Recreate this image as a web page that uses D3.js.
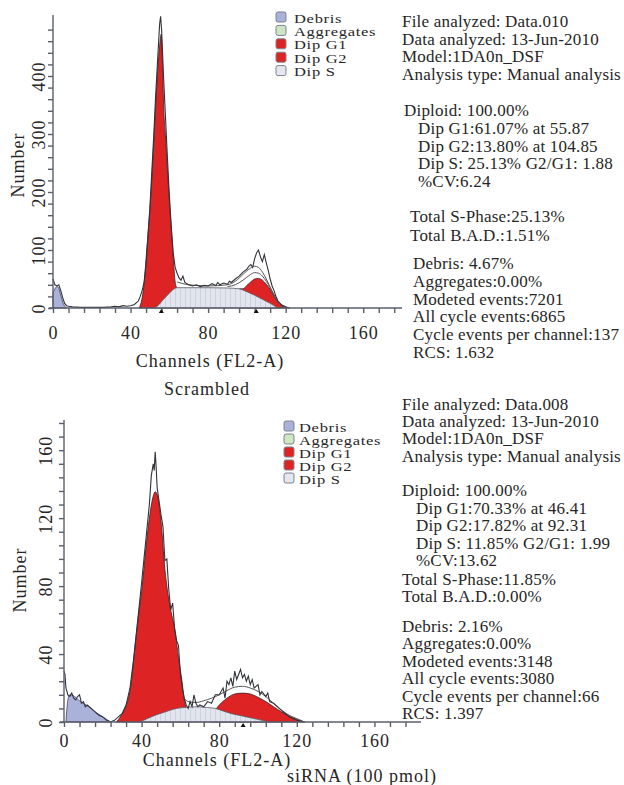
<!DOCTYPE html>
<html>
<head>
<meta charset="utf-8">
<script src="https://cdn.jsdelivr.net/npm/d3@7"></script>
<style>
  body { margin: 0; background: #fff; }
  svg { display: block; font-family: "Liberation Serif", "Times New Roman", serif; }
</style>
</head>
<body>
<svg id="chart" width="624" height="785"></svg>
<script>
// legend
var legendNames = ["Debris", "Aggregates", "Dip G1", "Dip G2", "Dip S"];
var legendColors = ["#aab2da", "#cfe6c3", "#dd2323", "#dd2323", "#e4e7ef"];

// ---- Scrambled (top) : [channel, number] ----
var scrDebris = [[0,26],[1,33],[2,37],[3,34],[4,22],[5,10],[6,3],[7,0]];
var scrG1 = [[44.5,0],[46,18],[47,43],[48,85],[49,128],[50,170],[51,225],[52,288],[53,352],[54,410],[55,452],
             [55.8,472],[56.5,420],[57,355],[58,297],[59,240],[60,186],[61,137],[62,88],[63,45],[64,34]];
var scrS = [[52.6,0],[55,7],[57,15],[59,22],[61,29],[62.5,33],[64,35],[70,35],[80,35],[90,34.5],[96,33],
            [100,28],[104,22],[108,15],[112,8],[116,0]];
var scrG2 = [[96,33],[98,33],[100,39],[102,45],[104,50],[105,51],[106,51],[108,48],[110,41],[112,32],
             [114,20],[116,10],[118,4],[120,0]];
var scrRaw = [[0,50],[1,40],[2,38],[3,40],[4,30],[5,18],[6,8],[7,4],[8,3],[10,2],[14,1],[20,1],[26,1],[30,2],
              [32,3],[34,2],[36,4],[38,3],[40,4],[42,6],[44,12],[45,20],[46,30],[47,45],[48,75],[50,175],
              [52,300],[53,370],[54,430],[55,490],[55.5,503],[56,480],[57,400],[58,330],[59,260],[60,195],
              [61,140],[62,95],[63,70],[64,60],[65,52],[66,48],[67,55],[68,44],[69,42],[70,40],[72,38],
              [74,40],[76,37],[78,39],[80,38],[82,42],[84,39],[85,44],[86,40],[88,43],[90,41],[91,46],
              [92,44],[94,50],[96,55],[98,62],[100,67],[101,72],[102,75],[103,70],[104,85],[105,95],
              [106,100],[107,88],[108,80],[109,92],[110,78],[111,65],[112,50],[113,38],[114,30],[115,20],
              [116,12],[118,5],[120,2],[122,0]];
var scrFitA = [[64,45],[70,40],[80,38],[90,40],[94,46],[98,58],[100,64],[102,69],[104,72],[106,70],[108,62],
               [110,50],[112,36],[114,22],[116,11],[118,5],[120,1],[122,0]];
var scrFitB = [[90,37],[94,40],[98,48],[100,53],[102,58],[104,61],[106,60],[108,55],[110,46],[112,35],
               [114,23],[116,12],[118,5],[120,0]];
var scrMeans = [55.87, 104.85];
var scrYLabels = [0, 100, 200, 300, 400];
var scrXLabels = [0, 40, 80, 120, 160];

var scrFileInfo = ["File analyzed: Data.010", "Data analyzed: 13-Jun-2010", "Model:1DA0n_DSF", "Analysis type: Manual analysis"];
var scrDiploid = "Diploid: 100.00%";
var scrPhases = ["Dip G1:61.07% at 55.87", "Dip G2:13.80% at 104.85", "Dip S: 25.13% G2/G1: 1.88", "%CV:6.24"];
var scrTotals = ["Total S-Phase:25.13%", "Total B.A.D.:1.51%"];
var scrEvents = ["Debris: 4.67%", "Aggregates:0.00%", "Modeted events:7201", "All cycle events:6865", "Cycle events per channel:137", "RCS: 1.632"];

// ---- siRNA (bottom) ----
var sirDebris = [[1,0],[2,13],[3,16],[4,16],[6,14.5],[8,12.5],[10,11],[12,9.5],[14,8],[16,6],[18,4.5],[20,3],[22,1.5],[24,0]];
var sirG1 = [[27,0],[29,3],[31,7],[33,13],[34.9,25],[36,38],[37.5,54],[39,68],[40.3,80],[42,100],[44,120],[46,133],
             [47,135.5],[48,134],[50,118],[52,90],[53,80],[55,66],[57.2,54],[59,38],[60.7,25],[62,13],[63,8]];
var sirS = [[39,0],[43,2],[47,4],[51,5.5],[55,7],[58,8],[62,8.5],[68,9],[74,8.5],[78,8],[82,6.5],[86,5],[90,4],
            [94,3],[98,2],[102,1],[105,0]];
var sirG2 = [[76,7],[78,7.5],[80,10],[84,14],[88,16.5],[92,17],[96,16.5],[100,14.5],[104,12],[108,9],[112,6],
             [116,3.5],[120,1.5],[124,0]];
var sirRaw = [[0,30],[0.5,28],[1,20],[2,16],[3,15],[4,17],[5,14],[6,13],[7,15],[8,16],[9,11],[10,12],[11,9],[12,10],
              [14,8],[16,6],[18,4],[20,3],[22,1],[24,0],[26,1],[28,3],[30,5],[32,10],[34,20],[36,38],[38,60],
              [40,82],[42,105],[44,128],[45,145],[46,152],[46.5,148],[47,159],[47.5,150],[48,138],[50,122],
              [51,115],[52,95],[53,96],[54,78],[55,66],[56,70],[57,55],[58,48],[59,45],[60,28],[61,20],[62,14],
              [63,10],[64,8],[65,12],[66,9],[67,16],[68,11],[69,9],[70,10],[72,9],[74,12],[76,11],[78,16],
              [80,16],[82,20],[83,14],[84,24],[85,22],[86,26],[87,21],[88,30],[89,25],[90,28],[91,31],[92,26],
              [93,28],[94,24],[95,27],[96,22],[97,25],[98,20],[100,22],[101,16],[102,18],[104,15],[105,17],
              [106,12],[108,11],[110,9],[112,7],[114,5],[116,3],[118,2],[120,1],[124,0]];
var sirFit = [[62,14],[64,12],[68,11.5],[72,12.5],[76,14],[80,16],[84,18.5],[88,20.5],[92,21],[96,20],[100,18],
              [104,15],[108,11],[112,7],[116,4],[120,2],[124,0]];
var sirMeans = [92.31];
var sirYLabels = [0, 40, 80, 120, 160];
var sirXLabels = [0, 40, 80, 120, 160];

var sirFileInfo = ["File analyzed: Data.008", "Data analyzed: 13-Jun-2010", "Model:1DA0n_DSF", "Analysis type: Manual analysis"];
var sirDiploid = "Diploid: 100.00%";
var sirPhases = ["Dip G1:70.33% at 46.41", "Dip G2:17.82% at 92.31", "Dip S: 11.85% G2/G1: 1.99", "%CV:13.62"];
var sirTotals = ["Total S-Phase:11.85%", "Total B.A.D.:0.00%"];
var sirEvents = ["Debris: 2.16%", "Aggregates:0.00%", "Modeted events:3148", "All cycle events:3080", "Cycle events per channel:66", "RCS: 1.397"];

var svg = d3.select("#chart");
var ink = "#262626", axisCol = "#5a5f6c";

// hatch for S phase
var defs = svg.append("defs");
var pat = defs.append("pattern").attr("id", "hatch").attr("width", 5).attr("height", 10)
    .attr("patternUnits", "userSpaceOnUse");
pat.append("rect").attr("width", 5).attr("height", 10).attr("fill", "#e2e5ee");
pat.append("line").attr("x1", 0.5).attr("x2", 0.5).attr("y1", 0).attr("y2", 10)
    .attr("stroke", "#cdd2de").attr("stroke-width", 1);

function panel(o) {
  var x = d3.scaleLinear().domain([0, o.xMax]).range([o.left, o.right]);
  var y = d3.scaleLinear().domain([0, o.yMax]).range([o.base, o.top]);
  var g = svg.append("g");

  var area = d3.area().x(function(d) { return x(d[0]); }).y0(y(0))
      .y1(function(d) { return y(d[1]); }).curve(d3.curveMonotoneX);
  var smooth = d3.line().x(function(d) { return x(d[0]); }).y(function(d) { return y(d[1]); })
      .curve(d3.curveMonotoneX);
  var jag = d3.line().x(function(d) { return x(d[0]); }).y(function(d) { return y(d[1]); });

  g.append("path").attr("d", area(o.g1)).attr("fill", "#dd2323").attr("stroke", "#3b2020").attr("stroke-width", 0.8);
  g.append("path").attr("d", area(o.g2)).attr("fill", "#dd2323").attr("stroke", "#3b2020").attr("stroke-width", 0.8);
  g.append("path").attr("d", area(o.s)).attr("fill", "url(#hatch)").attr("stroke", "#555a66").attr("stroke-width", 0.8);
  g.append("path").attr("d", area(o.debris)).attr("fill", "#aab2da").attr("stroke", "#3d4258").attr("stroke-width", 0.8);
  o.fits.forEach(function(f) {
    g.append("path").attr("d", smooth(f)).attr("fill", "none").attr("stroke", "#555").attr("stroke-width", 1);
  });
  g.append("path").attr("d", jag(o.raw)).attr("fill", "none").attr("stroke", "#30333a").attr("stroke-width", 1.1);

  // y axis
  var yAx = g.append("g").attr("transform", "translate(" + o.left + ",0)")
      .call(d3.axisLeft(y).tickValues(d3.range(0, o.yTickMax + 1, o.yMinor)).tickSize(5)
        .tickFormat(function(d) { return o.yLabels.indexOf(d) >= 0 ? d : ""; }));
  yAx.select(".domain").attr("d", "M0," + y(0) + "V" + (o.top - 3));
  yAx.selectAll("text").attr("transform", "rotate(-90)").attr("x", 0).attr("y", -o.yLabOff).attr("dy", 0)
      .attr("text-anchor", "middle").style("font-size", "18px").style("letter-spacing", "1px");

  // x axis
  var xAx = g.append("g").attr("transform", "translate(0," + y(0) + ")")
      .call(d3.axisBottom(x).tickValues(d3.range(0, 177, 8)).tickSize(5)
        .tickFormat(function(d) { return o.xLabels.indexOf(d) >= 0 ? d : ""; }));
  xAx.select(".domain").attr("d", "M" + (o.left - 4) + ",0H" + o.right);
  xAx.selectAll("text").attr("y", o.xLabOff).attr("dy", 0).style("font-size", "18px").style("letter-spacing", "1px");
  [yAx, xAx].forEach(function(a) {
    a.attr("font-family", null).attr("font-size", null);
    a.selectAll("line, .domain").attr("stroke", axisCol).attr("stroke-width", 1.4);
    a.selectAll("text").attr("fill", ink);
  });

  // mean markers
  g.selectAll(".mk").data(o.means).enter().append("path")
      .attr("d", function(d) { var cx = x(d), b = y(0); return "M" + (cx - 2.5) + "," + (b + 5) + "L" + cx + "," + (b + 1) + "L" + (cx + 2.5) + "," + (b + 5) + "Z"; })
      .attr("fill", "#111");

  // axis titles
  g.append("text").attr("transform", "translate(" + o.yTitleX + "," + o.yTitleY + ") rotate(-90)")
      .attr("text-anchor", "middle").style("font-size", "18px").style("letter-spacing", "1px")
      .attr("fill", ink).text("Number");
  g.append("text").attr("x", o.xTitleX).attr("y", o.xTitleY).attr("text-anchor", "middle")
      .style("font-size", "18px").style("letter-spacing", "1px").attr("fill", ink).text("Channels (FL2-A)");

  // legend (rows are packed tightly, text squeezed vertically as in the print)
  var lg = g.append("g");
  legendNames.forEach(function(n, i) {
    var cy = o.legY + i * o.legStep;
    lg.append("rect").attr("x", o.legX).attr("y", cy - 6).attr("width", 10).attr("height", 10).attr("rx", 2)
        .attr("fill", legendColors[i]).attr("stroke", "#7d8290").attr("stroke-width", 1);
    lg.append("text").attr("transform", "translate(" + (o.legX + o.legTextGap) + "," + (cy + 4.5) + ") scale(1,0.8)")
        .style("font-size", "16.5px").style("letter-spacing", "0.7px").attr("fill", ink).text(n);
  });
}

function infoBlock(lines, x, y0, step) {
  lines.forEach(function(t, i) {
    svg.append("text").attr("x", x).attr("y", y0 + i * step).style("font-size", "17px")
        .style("letter-spacing", "0.2px").attr("fill", ink).text(t);
  });
}

panel({ left: 53, right: 402, base: 308, top: 18, xMax: 180, yMax: 500, yTickMax: 480, yMinor: 20,
  yLabels: scrYLabels, xLabels: scrXLabels, yLabOff: 8, xLabOff: 31,
  g1: scrG1, g2: scrG2, s: scrS, debris: scrDebris, raw: scrRaw, fits: [scrFitA, scrFitB], means: scrMeans,
  yTitleX: 24, yTitleY: 165, xTitleX: 210, xTitleY: 367,
  legX: 276, legY: 18, legStep: 13.4, legTextGap: 18 });

panel({ left: 64, right: 421, base: 722, top: 423, xMax: 184, yMax: 176, yTickMax: 176, yMinor: 8,
  yLabels: sirYLabels, xLabels: sirXLabels, yLabOff: 12, xLabOff: 25,
  g1: sirG1, g2: sirG2, s: sirS, debris: sirDebris, raw: sirRaw, fits: [sirFit], means: sirMeans,
  yTitleX: 26, yTitleY: 580, xTitleX: 217, xTitleY: 766,
  legX: 284, legY: 427, legStep: 13, legTextGap: 15 });

svg.append("text").attr("x", 207).attr("y", 395).attr("text-anchor", "middle").style("font-size", "18px")
    .style("letter-spacing", "1px").attr("fill", ink).text("Scrambled");
svg.append("text").attr("x", 287).attr("y", 782).style("font-size", "18px")
    .style("letter-spacing", "1px").attr("fill", ink).text("siRNA (100 pmol)");

// info text, top
infoBlock(scrFileInfo, 402, 27, 17.7);
infoBlock([scrDiploid], 404, 116, 17.5);
infoBlock(scrPhases, 418, 134, 17.5);
infoBlock(scrTotals, 410, 222, 19);
infoBlock(scrEvents, 413, 269, 17.8);
// info text, bottom
infoBlock(sirFileInfo, 402, 410, 17.2);
infoBlock([sirDiploid], 402, 496, 17.5);
infoBlock(sirPhases, 416, 513.5, 17.5);
infoBlock(sirTotals, 402, 584.5, 17.5);
infoBlock(sirEvents, 402, 632, 17.4);
</script>
</body>
</html>
